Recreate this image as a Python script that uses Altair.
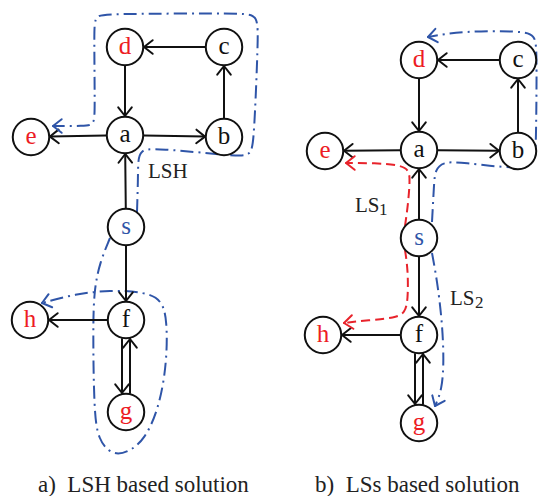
import altair as alt
import pandas as pd
import numpy as np

# ---------------- data ----------------
node_names = ["a", "b", "c", "d", "e", "s", "f", "g", "h"]
node_colors = ["#111111", "#111111", "#111111", "#ED1C24", "#ED1C24", "#2F55A8", "#111111", "#ED1C24", "#ED1C24"]
panel_a_x = [125, 224, 224, 125, 31, 126, 126, 126, 30]
panel_a_y = [135, 137, 47, 47, 137, 227, 320, 412, 320]
panel_b_x = [419, 518, 518, 419, 325, 419, 419, 419, 323]
panel_b_y = [150, 151, 60, 60, 151, 238, 335, 423, 335]

edge_from = ["d", "a", "b", "c", "a", "s", "s", "f", "f", "g"]
edge_to = ["a", "b", "c", "d", "e", "a", "f", "h", "g", "f"]
edge_dx = [0, 0, 0, 0, 0, 0, 0, 0, -4, 4]

# blue dash-dot paths (control points)
lsh_top_x = [137, 138, 138, 140, 155, 235, 251, 254, 258, 258, 244, 110, 95, 94, 95, 94, 84, 53]
lsh_top_y = [212, 180, 162, 150, 148, 156, 156, 140, 42, 15, 13, 14, 15, 30, 112, 125, 126, 126]
lsh_bot_x = [110, 100, 94, 93, 94, 98, 112, 127, 145, 160, 167, 167, 162, 145, 110, 75, 42]
lsh_bot_y = [238, 262, 290, 330, 410, 440, 455, 453, 440, 405, 360, 320, 300, 292, 290, 294, 303]
lsb_top_x = [432, 434, 435, 443, 460, 522, 535, 536, 537, 535, 522, 462, 428]
lsb_top_y = [222, 185, 170, 162, 162, 170, 162, 145, 50, 35, 31, 31, 37]
ls2_x = [432, 437, 442, 444, 442, 435]
ls2_y = [253, 280, 320, 360, 390, 406]

# red dashed paths
ls1a_x = [405, 408, 410, 409, 400, 375, 346]
ls1a_y = [226, 205, 180, 170, 165, 163, 163]
ls1b_x = [405, 408, 408, 405, 395, 370, 344]
ls1b_y = [250, 270, 300, 313, 318, 320, 323]

# text labels
label_text = ["LSH", "LS", "LS"]
label_x = [148, 355, 450]
label_y = [178, 212, 305]
sub_text = ["1", "2"]
sub_x = [379, 475]
sub_y = [215, 308]
caption_text = ["a)\u00a0 LSH based solution", "b)\u00a0 LSs based solution"]
caption_x = [38, 315]
caption_y = [492, 492]

R = 19
HEAD_L = 11
HEAD_ANG = np.radians(38)

# ---------------- build tables ----------------
nodes = []
for px, py in ((panel_a_x, panel_a_y), (panel_b_x, panel_b_y)):
    for n, c, x, y in zip(node_names, node_colors, px, py):
        nodes.append(dict(name=n, color=c, x=x, y=y))
nodes_df = pd.DataFrame(nodes)


def head(tx, ty, ux, uy, color):
    out = []
    for sgn in (1, -1):
        ca, sa = np.cos(HEAD_ANG), np.sin(HEAD_ANG) * sgn
        vx = ux * ca - uy * sa
        vy = ux * sa + uy * ca
        out.append(dict(x=tx, y=ty, x2=tx - HEAD_L * vx, y2=ty - HEAD_L * vy, color=color))
    return out


rules = []
for px, py in ((panel_a_x, panel_a_y), (panel_b_x, panel_b_y)):
    pos = {n: (x, y) for n, x, y in zip(node_names, px, py)}
    for f, t, dx in zip(edge_from, edge_to, edge_dx):
        ax, ay = pos[f]
        bx, by = pos[t]
        d = np.hypot(bx - ax, by - ay)
        ux, uy = (bx - ax) / d, (by - ay) / d
        sx, sy = ax + R * ux + dx, ay + R * uy
        ex, ey = bx - R * ux + dx, by - R * uy
        rules.append(dict(x=sx, y=sy, x2=ex, y2=ey, color="#111111"))
        rules += head(ex, ey, ux, uy, "#111111")

curves = []
blue_paths = [(lsh_top_x, lsh_top_y), (lsh_bot_x, lsh_bot_y), (lsb_top_x, lsb_top_y), (ls2_x, ls2_y)]
red_paths = [(ls1a_x, ls1a_y), (ls1b_x, ls1b_y)]
BLUE = "#2F55A8"
RED = "#E8232B"
for kind, paths, col in (("blue", blue_paths, BLUE), ("red", red_paths, RED)):
    for k, (xs, ys) in enumerate(paths):
        for i, (x, y) in enumerate(zip(xs, ys)):
            curves.append(dict(cid=f"{kind}{k}", kind=kind, i=i, x=x, y=y))
        dxe, dye = xs[-1] - xs[-2], ys[-1] - ys[-2]
        d = np.hypot(dxe, dye)
        rules += head(xs[-1], ys[-1], dxe / d, dye / d, col)

rules_df = pd.DataFrame(rules)
curves_df = pd.DataFrame(curves)
labels_df = pd.DataFrame(dict(t=label_text, x=label_x, y=label_y))
subs_df = pd.DataFrame(dict(t=sub_text, x=sub_x, y=sub_y))
caps_df = pd.DataFrame(dict(t=caption_text, x=caption_x, y=caption_y))

# ---------------- chart ----------------
sx = alt.Scale(domain=[8, 539], nice=False, zero=False)
sy = alt.Scale(domain=[8, 496], nice=False, zero=False, reverse=True)
X = lambda f="x": alt.X(f, type="quantitative", scale=sx, axis=None)
Y = lambda f="y": alt.Y(f, type="quantitative", scale=sy, axis=None)

rule_layer = alt.Chart(rules_df).mark_rule(strokeWidth=2, strokeCap="round").encode(
    x=X(), y=Y(), x2="x2", y2="y2", color=alt.Color("color:N", scale=None)
)

blue_layer = alt.Chart(curves_df[curves_df.kind == "blue"]).mark_line(
    interpolate="basis", color=BLUE, strokeWidth=2, strokeDash=[13, 5, 2, 5]
).encode(x=X(), y=Y(), detail="cid:N", order="i:Q")

red_layer = alt.Chart(curves_df[curves_df.kind == "red"]).mark_line(
    interpolate="basis", color=RED, strokeWidth=2, strokeDash=[9, 5]
).encode(x=X(), y=Y(), detail="cid:N", order="i:Q")

node_layer = alt.Chart(nodes_df).mark_point(
    shape="circle", size=1330, filled=True, fill="white", stroke="#111111", strokeWidth=2, opacity=1
).encode(x=X(), y=Y())

node_text = alt.Chart(nodes_df).mark_text(
    font="Liberation Serif", fontSize=25, baseline="alphabetic", dy=7, align="center"
).encode(x=X(), y=Y(), text="name:N", color=alt.Color("color:N", scale=None))

label_layer = alt.Chart(labels_df).mark_text(
    font="Liberation Serif", fontSize=21, baseline="alphabetic", align="left", color="#222222"
).encode(x=X(), y=Y(), text="t:N")

sub_layer = alt.Chart(subs_df).mark_text(
    font="Liberation Serif", fontSize=17, baseline="alphabetic", align="left", color="#222222"
).encode(x=X(), y=Y(), text="t:N")

cap_layer = alt.Chart(caps_df).mark_text(
    font="Liberation Serif", fontSize=23, baseline="alphabetic", align="left", color="#222222"
).encode(x=X(), y=Y(), text="t:N")

chart = alt.layer(
    blue_layer, red_layer, rule_layer, node_layer, node_text, label_layer, sub_layer, cap_layer
).properties(
    width=531, height=488, padding=0, autosize=alt.AutoSizeParams(type="none")
).configure_view(stroke=None)

chart.save("out.html", embed_options={"renderer": "svg", "actions": False})
